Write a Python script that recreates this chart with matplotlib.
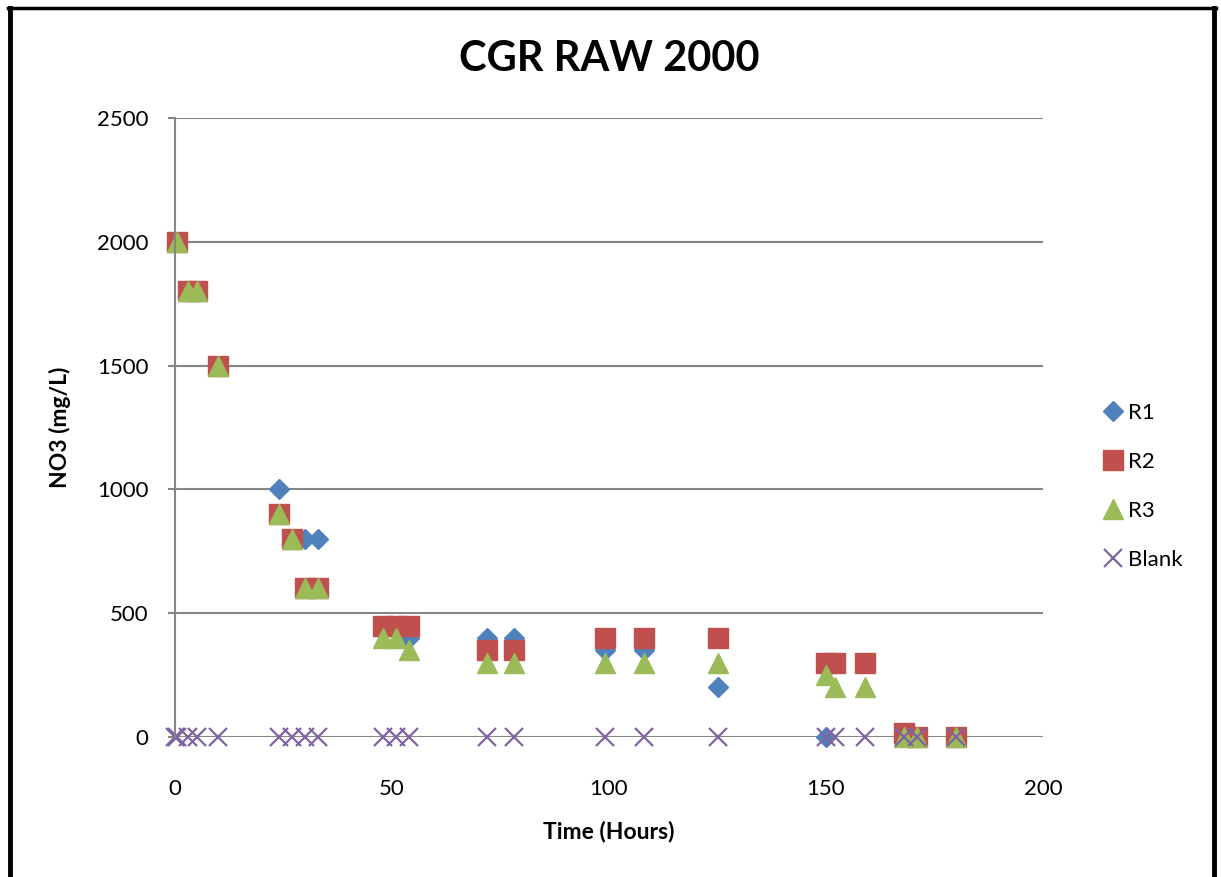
import matplotlib.pyplot as plt
from matplotlib.lines import Line2D

plt.rcParams['font.family'] = ['Lato', 'DejaVu Sans']

# data
r1_t = [0.5, 3, 5, 10, 24, 27, 30, 33, 48, 51, 54, 72, 78, 99, 108, 125, 150]
r1 = [2000, 1800, 1800, 1500, 1000, 800, 800, 800, 450, 450, 400, 400, 400, 350, 350, 200, 0]

r2_t = [0.5, 3, 5, 10, 24, 27, 30, 33, 48, 51, 54, 72, 78, 99, 108, 125, 150, 152, 159, 168, 171, 180]
r2 = [2000, 1800, 1800, 1500, 900, 800, 600, 600, 450, 450, 450, 350, 350, 400, 400, 400, 300, 300, 300, 15, 0, 0]

r3_t = r2_t
r3 = [2000, 1800, 1800, 1500, 900, 800, 600, 600, 400, 400, 350, 300, 300, 300, 300, 300, 250, 200, 200, 0, 0, 0]

blank_t = [0, 0.5, 3, 5, 10, 24, 27, 30, 33, 48, 51, 54, 72, 78, 99, 108, 125, 150, 152, 159, 168, 171, 180]
blank = [0] * len(blank_t)

fig = plt.figure(figsize=(12.21, 8.77), dpi=100)
ax = fig.add_axes([175/1221, 1 - 737/877, (1043-175)/1221, (737-118)/877])

ax.plot(r1_t, r1, 'D', color='#4F81BD', ms=9.7, mec='#4F81BD', label='R1', clip_on=False)
ax.plot(r2_t, r2, 's', color='#C0504D', ms=15, mec='#C0504D', label='R2', clip_on=False)
ax.plot(r3_t, r3, '^', color='#9BBB59', ms=14.5, mec='#9BBB59', label='R3', clip_on=False)
ax.plot(blank_t, blank, 'x', color='#8064A2', ms=13.5, mew=1.6, label='Blank', clip_on=False)

ax.set_xlim(0, 200)
ax.set_ylim(0, 2500)
ax.set_xticks(range(0, 201, 50))
ax.set_yticks(range(0, 2501, 500))
ax.grid(axis='y', color='#868686', lw=1.5)
ax.set_axisbelow(True)
for s in ['top', 'right', 'bottom']:
    ax.spines[s].set_visible(False)
ax.spines['left'].set_color('#868686')
ax.spines['left'].set_linewidth(1.5)
ax.tick_params(axis='y', length=5, color='#868686', width=1.5, labelsize=16, pad=14)
ax.tick_params(axis='x', length=0, labelsize=16, pad=30)

ax.set_title('CGR RAW 2000', fontsize=30, fontweight='bold', pad=34)
fig.text(60/1221, 1 - 427/877, 'NO3 (mg/L)', rotation=90, ha='center', va='center',
         fontsize=16.5, fontweight='bold')
fig.text(609/1221, 1 - 831/877, 'Time (Hours)', ha='center', va='center',
         fontsize=16.5, fontweight='bold')

ax.legend(loc='upper left', bbox_to_anchor=(1094/1221, 1 - 392/877),
          bbox_transform=fig.transFigure, frameon=False, fontsize=16,
          handlelength=0.75, handletextpad=0.3, labelspacing=1.3, borderpad=0)

# outer chart border (left, top, right)
fig.add_artist(Line2D([10/1221, 10/1221], [0, 1 - 8/877], transform=fig.transFigure, color='black', lw=3.5))
fig.add_artist(Line2D([8/1221, 1216/1221], [1 - 8/877, 1 - 8/877], transform=fig.transFigure, color='black', lw=2.5))
fig.add_artist(Line2D([1214/1221, 1214/1221], [0, 1 - 8/877], transform=fig.transFigure, color='black', lw=3.5))

fig.savefig('out.png', dpi=100)
